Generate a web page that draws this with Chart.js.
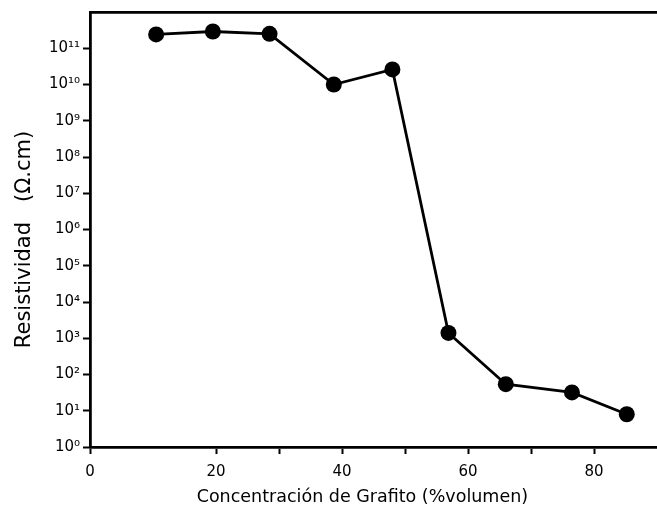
<!DOCTYPE html>
<html>
<head>
<meta charset="utf-8">
<script src="https://cdn.jsdelivr.net/npm/chart.js@4/dist/chart.umd.min.js"></script>
<style>
  html, body { margin: 0; padding: 0; background: #fff; }
  canvas { display: block; }
</style>
</head>
<body>
<canvas id="c" width="657" height="514"></canvas>
<script>
// ---- data ----
const concentration = [10.5, 19.5, 28.5, 38.7, 48, 56.9, 66, 76.5, 85.2];     // % volumen
const resistivity   = [2.4e11, 2.9e11, 2.5e11, 1.0e10, 2.6e10, 1.4e3, 54, 32, 8]; // ohm.cm
const xTickValues   = [0, 20, 30, 40, 50, 60, 70, 80];
const xTickLabels   = [0, 20, 40, 60, 80];
const yTickExponents = [0, 1, 2, 3, 4, 5, 6, 7, 8, 9, 10, 11];

const SUP = {'0':'⁰','1':'¹','2':'²','3':'³','4':'⁴','5':'⁵','6':'⁶','7':'⁷','8':'⁸','9':'⁹'};
const sup = n => String(n).split('').map(d => SUP[d]).join('');

const points = concentration.map((x, i) => ({x: x, y: resistivity[i]}));

const noSidePad = s => { s.paddingLeft = 0; s.paddingRight = 0; };

new Chart(document.getElementById('c'), {
  type: 'scatter',
  data: {
    datasets: [{
      data: points,
      showLine: true,
      borderColor: '#000',
      borderWidth: 2.8,
      pointRadius: 8,
      pointHoverRadius: 8,
      pointBackgroundColor: '#000',
      pointBorderColor: '#000',
      pointBorderWidth: 0,
      tension: 0,
      clip: false
    }]
  },
  options: {
    responsive: false,
    animation: false,
    devicePixelRatio: 1,
    layout: { padding: 0, autoPadding: false },
    plugins: { legend: { display: false }, tooltip: { enabled: false } },
    scales: {
      x: {
        type: 'linear', position: 'bottom', min: 0, max: 90,
        afterBuildTicks: s => { s.ticks = xTickValues.map(v => ({value: v})); },
        afterFit: s => { s.height = 67; noSidePad(s); },
        ticks: {
          autoSkip: false, maxRotation: 0, padding: 9,
          color: '#000', font: { family: 'DejaVu Sans', size: 15 },
          callback: v => xTickLabels.includes(v) ? String(v) : ''
        },
        grid: { display: true, drawOnChartArea: false, drawTicks: true, tickLength: 7, tickWidth: 2, color: '#000' },
        border: { display: true, color: '#000', width: 2.8 },
        title: {
          display: true,
          text: 'Concentración de Grafito (%volumen)    ',
          color: '#000',
          font: { family: 'DejaVu Sans', size: 17.5 },
          padding: { top: 0, bottom: 6 }
        }
      },
      xTop: {
        type: 'linear', position: 'top', min: 0, max: 90,
        afterFit: s => { s.height = 10; noSidePad(s); },
        ticks: { display: false },
        grid: { display: false, drawTicks: false },
        border: { display: true, color: '#000', width: 2.8 }
      },
      y: {
        type: 'logarithmic', position: 'left', min: 1, max: 1e12,
        afterBuildTicks: s => { s.ticks = yTickExponents.map(e => ({value: Math.pow(10, e)})); },
        afterFit: s => { s.width = 90; },
        ticks: {
          autoSkip: false, padding: 3,
          color: '#000', font: { family: 'DejaVu Sans', size: 15 },
          callback: v => '10' + sup(Math.round(Math.log10(v)))
        },
        grid: { display: true, drawOnChartArea: false, drawTicks: true, tickLength: 7, tickWidth: 2, color: '#000' },
        border: { display: true, color: '#000', width: 2.8 },
        title: {
          display: true,
          text: 'Resistividad   (Ω.cm)   ',
          color: '#000',
          font: { family: 'DejaVu Sans', size: 21 },
          padding: { top: 12, bottom: 0 }
        }
      }
    }
  }
});
</script>
</body>
</html>
